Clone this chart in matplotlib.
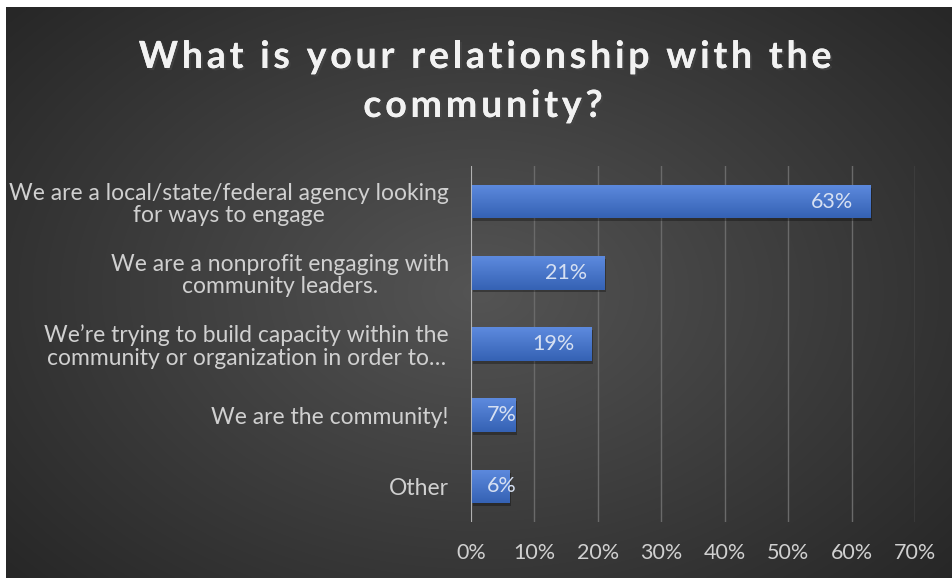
import numpy as np
import matplotlib
matplotlib.use("Agg")
import matplotlib.pyplot as plt
import matplotlib.patheffects as pe
from matplotlib.font_manager import FontProperties

categories = [
    "We are a local/state/federal agency looking\nfor ways to engage",
    "We are a nonprofit engaging with\ncommunity leaders.",
    "We\u2019re trying to build capacity within the\ncommunity or organization in order to\u2026",
    "We are the community!",
    "Other",
]
values = [63, 21, 19, 7, 6]
xticks = [0, 10, 20, 30, 40, 50, 60, 70]
title_lines = ["What is your relationship with the", "community?"]

plt.rcParams['font.family'] = ['Lato', 'DejaVu Sans']

W, H = 953, 578
fig = plt.figure(figsize=(W / 100, H / 100), dpi=100, facecolor="white")
renderer = fig.canvas.get_renderer()

# dark radial background
bg = fig.add_axes([6/W, 0, 1 - 7/W, 1 - 7/H], zorder=-5)
yy, xx = np.mgrid[0:1:300j, 0:1:500j]
r = np.sqrt(((xx - 0.5) / 0.75) ** 2 + ((yy - 0.5) / 0.85) ** 2)
shade = np.clip(0.33 - 0.2 * r, 0.14, 1)
bg.imshow(np.dstack([shade] * 3), aspect="auto", extent=[0, 1, 0, 1], interpolation="bilinear")
bg.axis("off")

ax_left, ax_right = 471, 915
ax = fig.add_axes([ax_left/W, 1 - 522/H, (ax_right - ax_left)/W, (522 - 166)/H])
ax.patch.set_alpha(0)

ypos = np.arange(len(values))
bars = ax.barh(ypos, values, height=0.47, color="#4472c4", zorder=3)
grad = np.linspace(0, 1, 50).reshape(-1, 1)
cmap = matplotlib.colors.LinearSegmentedColormap.from_list("b", ["#5d8ade", "#3562b4"])
for b in bars:
    x0, y0 = b.get_x(), b.get_y()
    w, h = b.get_width(), b.get_height()
    im = ax.imshow(grad, cmap=cmap, aspect="auto", extent=[x0, x0 + w, y0 + h, y0], zorder=4)
    im.set_clip_path(b)
    ax.add_patch(plt.Rectangle((x0 + 0.25, y0 + 0.04), w, h, color="black", alpha=0.3, zorder=2, lw=0))

ax.set_xlim(0, 70)
ax.set_ylim(len(values) - 0.5, -0.5)

# value labels: inside end, but kept clear of the axis for short bars
px_per_unit = (ax_right - ax_left) / 70
lab_fp = FontProperties(family="Lato", size=15.5)
for i, v in enumerate(values):
    s = f"{v}%"
    tw = renderer.get_text_width_height_descent(s, lab_fp, ismath=False)[0]
    right = max(v * px_per_unit - 17, 16 + tw)
    ax.text(right / px_per_unit, i, s, ha="right", va="center", fontproperties=lab_fp,
            color="#d6e0f2", zorder=5)

ax.set_xticks(xticks)
ax.set_xticklabels([f"{t}%" for t in xticks], fontsize=15.5, color="#d0d0d0")
ax.set_yticks(ypos)
ax.set_yticklabels(categories, fontsize=16.5, color="#d0d0d0", multialignment="center", linespacing=1.1)
ax.tick_params(length=0)
ax.tick_params(axis="y", pad=16)
ax.tick_params(axis="x", pad=15)
ax.grid(axis="x", color="#6a6a6a", lw=1, zorder=0)
for s in ax.spines.values():
    s.set_visible(False)
ax.axvline(0, color="#c0c0c0", lw=1.2, zorder=6)

# title with widened letter spacing, drawn char by char
tfp = FontProperties(family="Lato", weight="bold", size=27)
bar_w = renderer.get_text_width_height_descent("|", tfp, ismath=False)[0]

def adv(s):
    return renderer.get_text_width_height_descent(s + "|", tfp, ismath=False)[0] - bar_w

spacing = 3.8
for line, cx, base in zip(title_lines, [485, 483], [68, 117]):
    total = adv(line) + spacing * (len(line) - 1)
    x0 = cx - total / 2
    for i, ch in enumerate(line):
        if ch == " ":
            continue
        x = x0 + (adv(line[:i]) if i else 0) + spacing * i
        fig.text(x / W, 1 - base / H, ch, ha="left", va="baseline", fontproperties=tfp,
                 color="#f2f2f2",
                 path_effects=[pe.withSimplePatchShadow(offset=(1.5, -1.5), alpha=0.6), pe.Normal()])

fig.savefig("out.png", dpi=100, facecolor=fig.get_facecolor())
